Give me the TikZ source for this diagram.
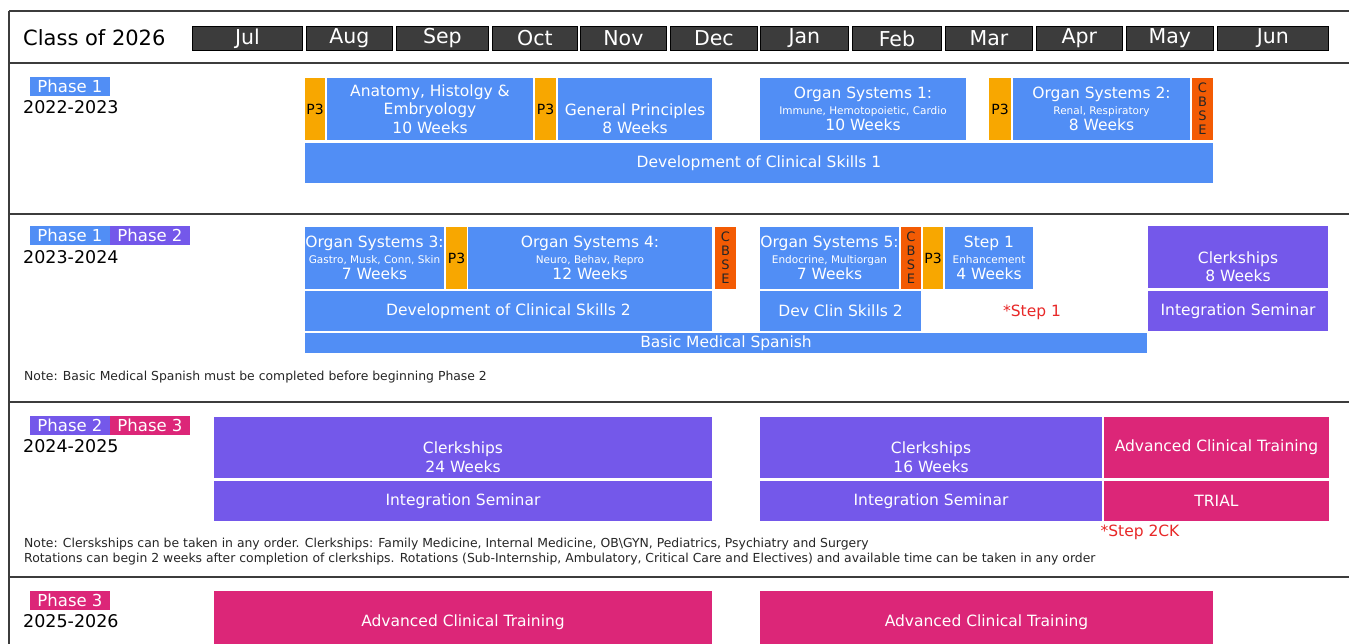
\documentclass[tikz,border=0pt]{standalone}
\usepackage{fontspec}
\setmainfont{DejaVu Sans}
\usepackage{tikz}
\usetikzlibrary{positioning}
\definecolor{phblue}{RGB}{81,142,245}
\definecolor{p3org}{RGB}{248,167,0}
\definecolor{cbsered}{RGB}{243,91,4}
\definecolor{phpurple}{RGB}{116,88,234}
\definecolor{phpink}{RGB}{220,38,120}
\definecolor{monthgray}{RGB}{60,60,60}
\definecolor{steptxt}{RGB}{232,40,40}
\newcommand{\subt}{\fontsize{10.5}{12}\selectfont}
\tikzset{
        x=1pt, y=-1pt, % one unit is one pixel, y runs down
        sz/.style 2 args={minimum width=#1pt, minimum height=#2pt},
        blk/.style={anchor=north west, inner sep=0pt, outer sep=0pt, text=white, align=center, font=\fontsize{15.5}{18.5}\selectfont},
        bluebox/.style={blk, fill=phblue},
        purplebox/.style={blk, fill=phpurple},
        pinkbox/.style={blk, fill=phpink},
        p3box/.style={blk, fill=p3org, text=black, font=\fontsize{14}{16}\selectfont},
        cbsebox/.style={blk, fill=cbsered, text=black!85, font=\fontsize{13}{14}\selectfont},
        month/.style={anchor=north west, inner sep=0pt, fill=monthgray, draw=black, line width=0.8pt, text=white, font=\fontsize{20.5}{22}\selectfont},
        tag/.style={blk, sz={80}{19}, font=\fontsize{16.5}{18}\selectfont},
        yr/.style={anchor=west, inner sep=0pt, font=\fontsize{17.5}{19}\selectfont},
        note/.style={anchor=west, inner sep=0pt, text=black!85, font=\fontsize{12.4}{14}\selectfont},
        steplbl/.style={inner sep=0pt, text=steptxt, font=\fontsize{15.5}{18}\selectfont},
        frame/.style={line width=2pt, draw=monthgray},
}
\begin{document}
\begin{tikzpicture}
\clip (0,0) rectangle (1349,644);
\fill[white] (0,0) rectangle (1349,644);
% frame
\draw[frame] (9,11) -- (1349,11);
\draw[frame] (9,63) -- (1349,63);
\draw[frame] (9,214) -- (1349,214);
\draw[frame] (9,402) -- (1349,402);
\draw[frame] (9,577) -- (1349,577);
\draw[frame] (9,11) -- (9,644);
% header
\node[anchor=west, inner sep=0pt, font=\fontsize{21}{24}\selectfont] (cls) at (23,38) {Class of 2026};
\foreach \m/\xa/\xb in {Jul/192/302, Aug/306/392, Sep/396/488, Oct/492/577, Nov/580/666, Dec/670/757, Jan/760/848, Feb/852/941, Mar/945/1032, Apr/1036/1122, May/1126/1213, Jun/1217/1328}
  \node[month, minimum width={(\xb-\xa)*1pt}, minimum height=24pt] (\m) at (\xa,26) {\m};

% 2022-2023
\node[tag, fill=phblue] (ph1a) at (30,77) {Phase 1};
\node[yr] (yra) at (23,107) {2022-2023};
\node[p3box, sz={20}{62}] (p3a) at (305,78) {P3};
\node[bluebox, sz={206}{62}] (anat) at (327,78) {Anatomy, Histolgy \&\\Embryology\\10 Weeks};
\node[p3box, sz={21}{62}] (p3b) at (535,78) {P3};
\node[bluebox, sz={154}{62}] (genp) at (558,78) {\strut\\General Principles\\8 Weeks};
\node[bluebox, sz={206}{62}] (os1) at (760,78) {Organ Systems 1:\\[-3pt]{\subt Immune, Hemotopoietic, Cardio}\\[-2pt]10 Weeks};
\node[p3box, sz={22}{62}] (p3c) at (989,78) {P3};
\node[bluebox, sz={177}{62}] (os2) at (1013,78) {Organ Systems 2:\\[-3pt]{\subt Renal, Respiratory}\\[-2pt]8 Weeks};
\node[cbsebox, sz={21}{62}] (cbsea) at (1192,78) {C\\B\\S\\E};
\node[bluebox, sz={908}{40}] (dcs1) at (305,143) {Development of Clinical Skills 1};

% 2023-2024
\node[tag, fill=phblue] (ph1b) at (30,226) {Phase 1};
\node[tag, fill=phpurple, right=0pt of ph1b.north east, anchor=north west] (ph2a) {Phase 2};
\node[yr] (yrb) at (23,257) {2023-2024};
\node[bluebox, sz={139}{62}] (os3) at (305,227) {Organ Systems 3:\\[-3pt]{\subt Gastro, Musk, Conn, Skin}\\[-2pt]7 Weeks};
\node[p3box, sz={21}{62}] (p3d) at (446,227) {P3};
\node[bluebox, sz={244}{62}] (os4) at (468,227) {Organ Systems 4:\\[-3pt]{\subt Neuro, Behav, Repro}\\[-2pt]12 Weeks};
\node[cbsebox, sz={21}{62}] (cbseb) at (715,227) {C\\B\\S\\E};
\node[bluebox, sz={407}{40}] (dcs2a) at (305,291) {Development of Clinical Skills 2};
\node[bluebox, sz={139}{62}] (os5) at (760,227) {Organ Systems 5:\\[-3pt]{\subt Endocrine, Multiorgan}\\[-2pt]7 Weeks};
\node[cbsebox, sz={20}{62}] (cbsec) at (901,227) {C\\B\\S\\E};
\node[p3box, sz={20}{62}] (p3e) at (923,227) {P3};
\node[bluebox, sz={88}{62}] (step1) at (945,227) {Step 1\\[-3pt]{\subt Enhancement}\\[-2pt]4 Weeks};
\node[bluebox, sz={161}{40}] (dcs2b) at (760,291) {Dev Clin Skills 2};
\node[steplbl] (s1note) at (1032,312) {*Step 1};
\node[purplebox, sz={180}{62}] (clk8) at (1148,226) {\strut\\Clerkships\\8 Weeks};
\node[purplebox, sz={180}{40}] (intega) at (1148,291) {Integration Seminar};
\node[bluebox, sz={842}{20}] (bms) at (305,333) {Basic Medical Spanish};
\node[note] (notea) at (24,377) {Note: Basic Medical Spanish must be completed before beginning Phase 2};

% 2024-2025
\node[tag, fill=phpurple] (ph2b) at (30,416) {Phase 2};
\node[tag, fill=phpink, right=0pt of ph2b.north east, anchor=north west] (ph3a) {Phase 3};
\node[yr] (yrc) at (23,446) {2024-2025};
\node[purplebox, sz={498}{61}] (clk24) at (214,417) {\strut\\Clerkships\\24 Weeks};
\node[purplebox, sz={498}{40}] (integb) at (214,481) {Integration Seminar};
\node[purplebox, sz={342}{61}] (clk16) at (760,417) {\strut\\Clerkships\\16 Weeks};
\node[purplebox, sz={342}{40}] (integc) at (760,481) {Integration Seminar};
\node[pinkbox, sz={225}{61}] (acta) at (1104,417) {Advanced Clinical Training};
\node[pinkbox, sz={225}{40}] (trial) at (1104,481) {TRIAL};
\node[steplbl] (s2note) at (1140,532) {*Step 2CK};
\node[note] (noteb) at (24,544) {Note: Clerskships can be taken in any order. Clerkships: Family Medicine, Internal Medicine, OB\textbackslash GYN, Pediatrics, Psychiatry and Surgery};
\node[note] (notec) at (24,559) {Rotations can begin 2 weeks after completion of clerkships. Rotations (Sub-Internship, Ambulatory, Critical Care and Electives) and available time can be taken in any order};

% 2025-2026
\node[tag, fill=phpink] (ph3b) at (30,591) {Phase 3};
\node[yr] (yrd) at (23,621) {2025-2026};
\node[pinkbox, sz={498}{63}] (actb) at (214,591) {Advanced Clinical Training};
\node[pinkbox, sz={453}{63}] (actc) at (760,591) {Advanced Clinical Training};
\end{tikzpicture}
\end{document}
